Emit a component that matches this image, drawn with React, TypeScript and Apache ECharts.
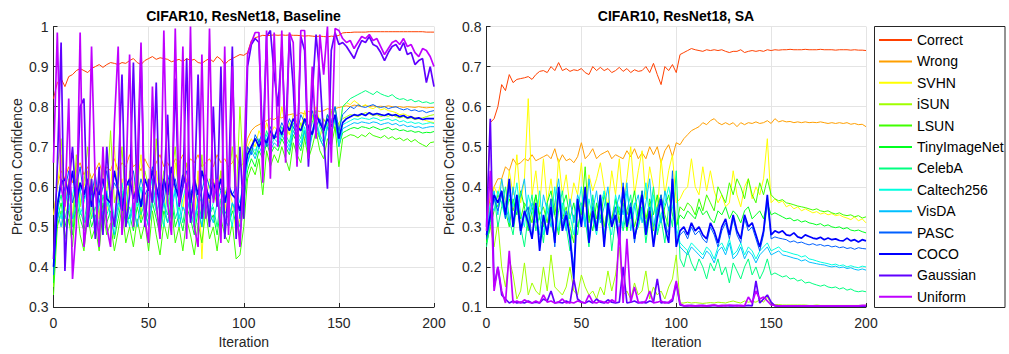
import React, { useEffect, useRef } from "react";
import * as echarts from "echarts";

// Iterations sampled every 2 steps (0..200)
const ITER: number[] = Array.from({ length: 101 }, (_, i) => i * 2);

const NAMES = ["Correct", "Wrong", "SVHN", "iSUN", "LSUN", "TinyImageNet", "CelebA", "Caltech256", "VisDA", "PASC", "COCO", "Gaussian", "Uniform"];
const COLORS = ["#ff4000", "#ff9f00", "#ffff00", "#a0ff00", "#40ff00", "#00ff20", "#00ff80", "#00ffdf", "#00bfff", "#0060ff", "#0000ff", "#6000ff", "#bf00ff"];
const WIDTHS = [1, 1, 1, 1, 1, 1, 1, 1, 1, 1, 1.7, 1.7, 1.7];

const TITLE_LEFT = "CIFAR10, ResNet18, Baseline";
const TITLE_RIGHT = "CIFAR10, ResNet18, SA";
const X_TICKS = { min: 0, max: 200, interval: 50 };
const Y_LEFT = { min: 0.3, max: 1, interval: 0.1 };
const Y_RIGHT = { min: 0.1, max: 0.8, interval: 0.1 };

// ---- Baseline panel (values in thousandths) ----
const L_CORRECT = [
  820, 860, 870, 850, 875, 880, 890, 895, 890, 885, 895, 900, 905, 898, 905, 910, 908, 905, 910, 908, 915, 920, 910, 905, 915, 920, 925, 918, 922, 920, 918, 912, 915, 918, 912, 920, 915, 918, 910, 908, 915, 920, 912, 925, 918, 905, 915, 920, 925, 930, 928,
  935, 965, 972, 975, 978, 977, 978, 979, 978, 979, 978, 979, 978, 978, 977, 976, 977, 976, 975, 976, 975, 974, 976, 975, 978,
  984, 985, 985, 986, 986, 986, 986, 987, 987, 987, 987, 987, 987, 987, 987, 987, 987, 987, 987, 987, 987, 987, 986, 986, 986];
const L_WRONG = [
  530, 600, 640, 620, 650, 610, 640, 660, 630, 650, 620, 640, 660, 630, 650, 640, 670, 640, 660, 650, 680, 650, 660, 640, 670, 650, 640, 660, 680, 650, 660, 640, 670, 660, 680, 650, 670, 660, 680, 650, 660, 670, 650, 680, 660, 670, 650, 660, 680, 650, 660,
  720, 740, 750, 755, 760, 765, 770, 768, 775, 772, 778, 780, 782, 778, 785, 782, 788, 785, 790, 788, 790, 795, 792, 795, 798,
  800, 802, 800, 804, 802, 800, 803, 800, 802, 800, 801, 800, 802, 800, 799, 800, 798, 800, 799, 798, 800, 798, 797, 798, 798];
const L_SVHN = [
  530, 600, 680, 540, 620, 500, 660, 560, 600, 640, 520, 620, 580, 660, 540, 600, 700, 560, 620, 520, 640, 580, 600, 680, 540, 620, 560, 640, 580, 500, 620, 560, 660, 600, 540, 620, 580, 520, 640, 420, 600, 560, 620, 580, 640, 540, 600, 560, 480, 520, 620,
  700, 720, 700, 740, 720, 760, 730, 750, 740, 800, 750, 730, 780, 760, 740, 790, 740, 770, 800, 760, 740, 780, 760, 800, 740,
  800, 810, 805, 815, 808, 800, 805, 798, 795, 800, 792, 795, 790, 788, 785, 780, 782, 778, 775, 772, 770, 768, 765, 762, 760];
const L_ISUN = [
  350, 650, 720, 560, 600, 520, 680, 550, 610, 700, 560, 630, 520, 650, 580, 740, 560, 600, 700, 540, 620, 580, 680, 520, 640, 600, 560, 720, 580, 640, 550, 620, 700, 560, 600, 660, 540, 620, 580, 680, 560, 620, 600, 550, 640, 580, 610, 700, 560, 800, 620,
  700, 690, 720, 700, 740, 710, 730, 720, 750, 730, 710, 760, 740, 720, 760, 720, 750, 780, 740, 720, 770, 750, 790, 740, 760,
  770, 775, 780, 778, 775, 780, 785, 782, 778, 780, 775, 778, 776, 780, 775, 772, 775, 770, 772, 768, 770, 772, 775, 778, 780];
const L_LSUN = [
  330, 500, 540, 470, 520, 450, 560, 480, 440, 530, 470, 500, 440, 540, 480, 510, 440, 490, 550, 460, 500, 450, 520, 470, 510, 440, 540, 480, 430, 510, 470, 550, 460, 500, 440, 520, 480, 430, 510, 460, 540, 470, 500, 440, 520, 480, 460, 510, 420, 430, 500,
  620, 650, 630, 670, 580, 690, 650, 680, 660, 700, 670, 640, 710, 680, 660, 720, 670, 700, 740, 690, 670, 720, 700, 750, 650,
  720, 725, 730, 728, 722, 730, 725, 735, 728, 725, 722, 728, 720, 725, 718, 722, 715, 720, 712, 718, 710, 705, 700, 710, 712];
const L_TINY = [
  360, 520, 560, 500, 540, 480, 570, 520, 490, 550, 500, 530, 480, 560, 510, 540, 470, 520, 570, 500, 530, 490, 550, 510, 540, 500, 560, 520, 480, 540, 510, 570, 500, 530, 490, 550, 520, 480, 540, 500, 560, 510, 530, 480, 550, 520, 500, 540, 510, 480, 560,
  640, 670, 650, 690, 670, 710, 680, 700, 690, 720, 700, 680, 730, 710, 690, 740, 700, 730, 760, 720, 700, 750, 730, 770, 700,
  735, 740, 745, 748, 745, 750, 748, 745, 750, 746, 742, 745, 748, 742, 745, 740, 742, 738, 740, 736, 738, 734, 736, 735, 738];
const L_CELEBA = [
  380, 540, 580, 520, 560, 500, 600, 540, 510, 570, 520, 550, 500, 580, 530, 560, 500, 540, 590, 520, 550, 510, 570, 530, 560, 520, 580, 540, 500, 560, 530, 590, 520, 550, 510, 570, 540, 500, 560, 520, 580, 530, 550, 500, 570, 540, 520, 560, 530, 500, 600,
  660, 700, 680, 720, 700, 740, 710, 730, 720, 750, 730, 710, 760, 740, 720, 770, 730, 760, 790, 750, 730, 780, 760, 800, 730,
  800, 810, 820, 825, 830, 835, 840, 835, 830, 838, 832, 828, 825, 830, 822, 818, 820, 815, 818, 812, 815, 810, 812, 808, 810];
const L_CALTECH = [
  400, 560, 520, 600, 540, 580, 620, 530, 560, 600, 540, 510, 580, 620, 550, 590, 520, 560, 610, 540, 500, 580, 550, 600, 530, 580, 620, 540, 560, 500, 590, 550, 600, 520, 570, 610, 540, 500, 580, 560, 600, 530, 560, 610, 520, 580, 550, 500, 590, 560, 620,
  680, 700, 690, 710, 700, 730, 700, 720, 710, 740, 720, 700, 750, 730, 710, 750, 700, 740, 770, 730, 710, 760, 740, 780, 710,
  755, 760, 765, 770, 768, 772, 770, 768, 772, 770, 765, 768, 770, 765, 768, 762, 765, 760, 762, 758, 760, 756, 758, 760, 758];
const L_VISDA = [
  420, 540, 500, 560, 590, 520, 550, 600, 510, 540, 580, 500, 560, 530, 590, 520, 480, 560, 540, 600, 520, 560, 500, 570, 540, 500, 560, 600, 530, 560, 510, 540, 590, 500, 550, 530, 580, 520, 560, 500, 570, 540, 510, 560, 590, 520, 500, 560, 540, 470, 600,
  660, 690, 670, 700, 680, 720, 690, 710, 700, 730, 710, 690, 740, 720, 700, 740, 680, 730, 760, 720, 700, 750, 730, 770, 700,
  745, 750, 755, 760, 758, 762, 760, 758, 762, 760, 755, 758, 760, 755, 758, 752, 755, 750, 752, 748, 750, 746, 748, 750, 750];
const L_PASC = [
  380, 560, 620, 590, 640, 560, 600, 650, 570, 610, 580, 630, 560, 600, 640, 570, 610, 590, 560, 620, 600, 640, 570, 620, 580, 600, 650, 580, 610, 560, 630, 590, 620, 570, 600, 640, 580, 610, 560, 590, 630, 600, 570, 620, 590, 560, 610, 580, 600, 520, 640,
  700, 680, 730, 710, 740, 700, 750, 720, 730, 760, 740, 770, 750, 730, 780, 760, 740, 790, 750, 770, 740, 780, 760, 800, 740,
  780, 790, 800, 795, 805, 800, 798, 802, 805, 800, 798, 800, 795, 798, 800, 795, 792, 795, 790, 792, 788, 790, 785, 788, 790];
const L_COCO = [
  400, 550, 610, 620, 580, 640, 560, 610, 580, 620, 550, 600, 580, 620, 570, 560, 640, 590, 540, 600, 620, 570, 600, 550, 620, 590, 640, 600, 560, 620, 580, 650, 600, 570, 630, 600, 560, 620, 580, 640, 600, 570, 610, 580, 620, 560, 600, 580, 570, 540, 620,
  680, 700, 720, 700, 720, 710, 740, 720, 750, 730, 760, 740, 770, 750, 740, 770, 750, 730, 780, 760, 740, 770, 750, 780, 720,
  760, 770, 775, 780, 778, 782, 778, 785, 780, 783, 780, 778, 782, 778, 780, 775, 778, 772, 775, 770, 772, 768, 770, 770, 770];
const L_GAUSS = [
  420, 650, 960, 390, 600, 700, 550, 800, 820, 500, 620, 470, 650, 480, 700, 560, 500, 620, 880, 500, 580, 910, 560, 940, 500, 620, 560, 860, 500, 600, 780, 520, 870, 550, 600, 920, 510, 580, 880, 520, 620, 500, 800, 550, 900, 470, 600, 950, 470, 700, 520,
  900, 955, 970, 960, 700, 975, 990, 880, 800, 950, 720, 980, 850, 660, 975, 940, 650, 830, 980, 880, 720, 595, 940, 985, 955,
  960, 950, 935, 920, 945, 965, 960, 975, 955, 950, 935, 915, 935, 950, 955, 940, 960, 930, 935, 905, 915, 920, 860, 900, 850];
const L_UNIF = [
  660, 985, 600, 550, 820, 370, 500, 985, 450, 540, 950, 600, 450, 700, 500, 450, 760, 950, 480, 600, 930, 500, 650, 960, 520, 460, 850, 560, 470, 990, 560, 480, 995, 560, 950, 470, 1000, 500, 450, 930, 520, 995, 560, 620, 460, 950, 480, 900, 560, 450, 640,
  930, 960, 985, 985, 610, 990, 620, 985, 700, 990, 660, 985, 960, 650, 990, 990, 670, 900, 720, 980, 880, 1000, 660, 995, 990,
  970, 960, 965, 945, 960, 975, 970, 980, 965, 970, 950, 930, 945, 960, 965, 955, 970, 950, 955, 935, 925, 945, 940, 925, 900];

// ---- SA panel (values in thousandths) ----
const R_CORRECT = [
  300, 560, 570, 600, 655, 640, 680, 660, 668, 670, 672, 675, 668, 680, 688, 690, 685, 700, 690, 710, 690, 695, 688, 692, 690, 695, 685, 680, 700, 690, 698, 690, 695, 685, 690, 698, 688, 695, 685, 692, 688, 690, 700, 685, 708, 680, 655, 700, 690, 705, 685,
  730, 735, 740, 745, 742, 740, 738, 742, 740, 742, 740, 742, 738, 735, 738, 738, 742, 735, 738, 740, 738, 740, 738, 742, 740,
  742, 741, 742, 742, 743, 742, 742, 742, 743, 742, 742, 742, 743, 742, 742, 742, 741, 742, 742, 742, 741, 742, 741, 741, 740];
const R_WRONG = [
  290, 380, 400, 420, 420, 450, 440, 470, 455, 460, 470, 465, 480, 465, 470, 475, 480, 470, 495, 460, 480, 465, 470, 460, 475, 510, 470, 480, 495, 470, 480, 485, 490, 470, 480, 475, 470, 490, 475, 495, 470, 485, 470, 500, 480, 500, 460, 490, 505, 475, 510,
  505, 520, 530, 540, 545, 550, 560, 555, 565, 570, 560, 555, 560, 555, 560, 550, 560, 555, 560, 558, 562, 558, 560, 565, 558,
  570, 562, 565, 562, 563, 560, 562, 560, 562, 560, 561, 560, 562, 560, 558, 560, 558, 560, 558, 560, 556, 558, 555, 556, 550];
const R_SVHN = [
  320, 340, 400, 380, 420, 360, 440, 380, 480, 360, 420, 620, 380, 440, 350, 470, 360, 420, 340, 470, 380, 430, 350, 410, 380, 460, 350, 430, 390, 420, 460, 400, 350, 440, 380, 470, 360, 420, 500, 380, 440, 490, 370, 450, 400, 330, 470, 380, 440, 480, 360,
  370, 390, 400, 470, 400, 380, 450, 390, 440, 390, 360, 380, 350, 360, 440, 380, 350, 400, 420, 370, 400, 380, 420, 520, 360,
  370, 360, 365, 350, 355, 345, 350, 340, 345, 340, 335, 338, 332, 335, 330, 333, 328, 330, 325, 322, 318, 325, 315, 320, 310];
const R_ISUN = [
  260, 300, 250, 310, 200, 150, 220, 180, 120, 140, 210, 130, 160, 140, 130, 200, 140, 230, 150, 140, 130, 150, 200, 140, 130, 180, 150, 130, 140, 120, 150, 130, 190, 140, 180, 250, 130, 140, 120, 160, 130, 140, 190, 120, 150, 130, 140, 120, 150, 170, 230,
  110, 110, 112, 110, 111, 110, 109, 110, 111, 110, 112, 111, 110, 113, 115, 112, 110, 115, 112, 114, 112, 118, 112, 125, 108,
  106, 106, 105, 105, 105, 105, 105, 105, 105, 104, 104, 105, 104, 104, 104, 104, 104, 104, 104, 104, 104, 104, 104, 104, 104];
const R_LSUN = [
  260, 300, 340, 380, 360, 330, 370, 340, 380, 320, 360, 340, 310, 380, 330, 350, 310, 370, 330, 390, 320, 350, 300, 260, 370, 330, 450, 310, 360, 320, 380, 300, 350, 320, 370, 310, 390, 330, 360, 300, 340, 390, 320, 360, 290, 350, 380, 330, 300, 420, 300,
  350, 340, 360, 350, 330, 370, 340, 380, 360, 340, 400, 380, 360, 410, 380, 420, 400, 370, 420, 380, 360, 410, 380, 420, 380,
  370, 365, 368, 360, 358, 355, 352, 350, 348, 345, 342, 345, 340, 338, 340, 335, 332, 335, 330, 328, 330, 325, 328, 322, 325];
const R_TINY = [
  260, 330, 370, 350, 390, 340, 300, 370, 330, 390, 350, 290, 340, 380, 320, 300, 360, 390, 330, 280, 350, 380, 320, 360, 300, 340, 390, 330, 290, 360, 320, 380, 340, 300, 370, 330, 360, 290, 340, 390, 320, 350, 300, 370, 330, 380, 310, 350, 380, 330, 300,
  330, 320, 340, 330, 320, 350, 330, 340, 320, 310, 340, 330, 350, 320, 340, 330, 310, 340, 350, 320, 330, 340, 320, 360, 330,
  335, 330, 325, 320, 322, 315, 318, 312, 315, 310, 308, 305, 308, 302, 305, 300, 298, 300, 295, 298, 292, 290, 292, 288, 285];
const R_CELEBA = [
  250, 310, 380, 300, 350, 400, 320, 280, 360, 300, 250, 330, 380, 290, 330, 260, 360, 310, 270, 340, 390, 300, 240, 330, 280, 360, 320, 250, 380, 300, 330, 280, 360, 240, 320, 350, 290, 340, 380, 280, 300, 350, 260, 330, 400, 280, 320, 260, 350, 300, 440,
  220, 200, 240, 210, 190, 220, 200, 170, 210, 190, 220, 180, 200, 160, 210, 190, 170, 200, 220, 180, 200, 170, 190, 220, 180,
  185, 180, 175, 178, 170, 172, 165, 168, 160, 162, 158, 155, 152, 155, 150, 148, 150, 145, 148, 142, 145, 140, 138, 140, 138];
const R_CALTECH = [
  290, 360, 340, 390, 360, 320, 380, 350, 410, 330, 300, 380, 340, 310, 390, 280, 350, 320, 400, 290, 360, 300, 330, 280, 340, 400, 300, 370, 320, 280, 350, 390, 310, 280, 380, 340, 300, 390, 320, 360, 300, 340, 410, 320, 380, 290, 330, 360, 400, 350, 300,
  260, 250, 240, 260, 250, 240, 230, 250, 240, 220, 250, 260, 240, 270, 230, 240, 260, 230, 250, 240, 220, 240, 250, 260, 240,
  245, 250, 240, 238, 235, 232, 230, 225, 228, 220, 218, 215, 212, 210, 208, 205, 207, 203, 205, 200, 203, 200, 198, 202, 200];
const R_VISDA = [
  280, 350, 390, 330, 420, 360, 310, 400, 340, 380, 420, 310, 360, 330, 280, 380, 340, 300, 360, 420, 330, 290, 370, 310, 380, 350, 300, 420, 340, 390, 310, 350, 400, 300, 340, 380, 330, 410, 290, 350, 380, 310, 360, 420, 300, 350, 310, 390, 340, 380, 290,
  250, 240, 230, 250, 240, 230, 220, 240, 230, 210, 240, 250, 230, 260, 220, 230, 250, 220, 240, 230, 210, 230, 240, 250, 230,
  235, 240, 230, 228, 225, 222, 220, 215, 218, 212, 210, 208, 206, 205, 202, 200, 202, 198, 200, 196, 198, 194, 192, 195, 192];
const R_PASC = [
  270, 320, 370, 340, 380, 320, 410, 300, 360, 280, 330, 350, 270, 340, 260, 320, 290, 370, 250, 390, 300, 340, 280, 200, 360, 310, 390, 270, 350, 300, 370, 260, 340, 310, 350, 280, 410, 310, 360, 260, 330, 390, 290, 350, 260, 340, 380, 310, 280, 440, 260,
  280, 290, 270, 300, 280, 290, 270, 260, 300, 280, 250, 290, 310, 270, 320, 280, 260, 320, 290, 300, 270, 240, 280, 360, 270,
  275, 272, 270, 268, 262, 265, 260, 262, 258, 255, 258, 254, 256, 252, 254, 250, 252, 248, 250, 246, 248, 244, 248, 246, 245];
const R_COCO = [
  280, 330, 380, 360, 390, 330, 420, 300, 380, 290, 340, 310, 270, 360, 240, 330, 280, 350, 260, 400, 290, 330, 270, 170, 370, 300, 400, 260, 340, 290, 380, 250, 360, 300, 330, 260, 400, 300, 350, 270, 320, 380, 280, 340, 250, 320, 370, 300, 260, 420, 250,
  290, 300, 280, 310, 290, 300, 280, 270, 310, 290, 260, 300, 320, 280, 330, 290, 270, 330, 300, 310, 280, 250, 290, 380, 280,
  290, 285, 290, 280, 278, 285, 275, 272, 280, 276, 272, 270, 274, 268, 272, 268, 270, 266, 265, 272, 265, 268, 262, 268, 265];
const R_GAUSS = [
  300, 570, 150, 200, 130, 120, 110, 115, 110, 112, 110, 115, 110, 112, 110, 120, 115, 140, 110, 112, 110, 115, 110, 170, 120, 112, 110, 115, 110, 120, 112, 110, 118, 112, 110, 112, 200, 110, 112, 115, 110, 112, 110, 115, 112, 170, 110, 112, 110, 115, 160,
  105, 103, 103, 104, 103, 103, 104, 103, 103, 104, 103, 103, 104, 103, 103, 104, 103, 103, 104, 103, 165, 110, 120, 130, 112,
  103, 102, 102, 102, 102, 102, 102, 102, 102, 102, 102, 102, 102, 102, 102, 102, 102, 102, 102, 102, 102, 102, 102, 102, 102];
const R_UNIF = [
  290, 440, 140, 200, 140, 110, 240, 110, 115, 110, 118, 112, 110, 115, 110, 130, 112, 115, 110, 112, 120, 110, 112, 110, 115, 112, 110, 130, 112, 110, 115, 112, 110, 118, 112, 300, 110, 270, 112, 150, 112, 110, 115, 140, 110, 112, 115, 110, 112, 120, 165,
  108, 103, 104, 103, 103, 104, 103, 103, 104, 105, 103, 104, 103, 105, 104, 103, 104, 103, 125, 110, 140, 120, 125, 115, 105,
  104, 103, 103, 103, 103, 103, 103, 103, 103, 103, 103, 103, 103, 103, 103, 103, 103, 103, 103, 103, 103, 103, 103, 104, 104];

const LEFT_DATA = [L_CORRECT, L_WRONG, L_SVHN, L_ISUN, L_LSUN, L_TINY, L_CELEBA, L_CALTECH, L_VISDA, L_PASC, L_COCO, L_GAUSS, L_UNIF];
const RIGHT_DATA = [R_CORRECT, R_WRONG, R_SVHN, R_ISUN, R_LSUN, R_TINY, R_CELEBA, R_CALTECH, R_VISDA, R_PASC, R_COCO, R_GAUSS, R_UNIF];

const FONT = '"Liberation Sans", Arial, Helvetica, sans-serif';
const AX = "#262626";
const GRID = "#e4e4e4";

function xAxisCfg(gridIndex: number) {
  return {
    type: "value",
    gridIndex,
    ...X_TICKS,
    name: "Iteration",
    nameLocation: "middle",
    nameGap: 28,
    nameTextStyle: { fontSize: 14, color: AX, fontFamily: FONT },
    axisLine: { show: true, onZero: false, lineStyle: { color: AX, width: 1 } },
    axisTick: { show: true, inside: true, length: 4, lineStyle: { color: AX } },
    axisLabel: { margin: 9, fontSize: 14, color: AX, fontFamily: FONT },
    splitLine: { show: true, lineStyle: { color: GRID, width: 1 } },
  };
}

function yAxisCfg(gridIndex: number, range: { min: number; max: number; interval: number }, gap: number) {
  return {
    type: "value",
    gridIndex,
    ...range,
    name: "Prediction Confidence",
    nameLocation: "middle",
    nameGap: gap,
    nameTextStyle: { fontSize: 14, color: AX, fontFamily: FONT },
    axisLine: { show: true, onZero: false, lineStyle: { color: AX, width: 1 } },
    axisTick: { show: true, inside: true, length: 4, lineStyle: { color: AX } },
    axisLabel: { margin: 5, fontSize: 14, color: AX, fontFamily: FONT },
    splitLine: { show: true, lineStyle: { color: GRID, width: 1 } },
  };
}

function buildSeries(data: number[][], axisIndex: number) {
  return data.map((vals, k) => ({
    type: "line",
    name: NAMES[k],
    xAxisIndex: axisIndex,
    yAxisIndex: axisIndex,
    symbol: "none",
    showSymbol: false,
    smooth: false,
    color: COLORS[k],
    lineStyle: { color: COLORS[k], width: WIDTHS[k] },
    emphasis: { disabled: true },
    data: vals.map((v, i) => [ITER[i], v / 1000]),
  }));
}

export default function App() {
  const ref = useRef<HTMLDivElement>(null);
  useEffect(() => {
    if (!ref.current) return;
    const chart = echarts.init(ref.current, undefined, { renderer: "svg" });
    const option: any = {
      animation: false,
      backgroundColor: "#ffffff",
      textStyle: { fontFamily: FONT },
      title: [
        { text: TITLE_LEFT, left: 243.5, top: 9, padding: 0, textAlign: "center", textStyle: { fontSize: 14, fontWeight: "bold", color: "#000", fontFamily: FONT } },
        { text: TITLE_RIGHT, left: 676, top: 9, padding: 0, textAlign: "center", textStyle: { fontSize: 14, fontWeight: "bold", color: "#000", fontFamily: FONT } },
      ],
      grid: [
        { left: 53.5, top: 26.5, width: 380.5, height: 280.5, containLabel: false },
        { left: 486.5, top: 26.5, width: 379.5, height: 280.5, containLabel: false },
      ],
      xAxis: [xAxisCfg(0), xAxisCfg(1)],
      yAxis: [yAxisCfg(0, Y_LEFT, 29.5), yAxisCfg(1, Y_RIGHT, 31)],
      legend: {
        data: NAMES,
        orient: "vertical",
        left: 878,
        top: 33,
        padding: 0,
        itemWidth: 33,
        itemHeight: 14,
        itemGap: 7.4,
        selectedMode: false,
        itemStyle: { opacity: 0 },
        textStyle: { fontSize: 14, lineHeight: 14, color: "#000", fontFamily: FONT },
      },
      graphic: [
        {
          type: "rect",
          shape: { x: 874.5, y: 26.5, width: 130.5, height: 281 },
          style: { fill: "none", stroke: AX, lineWidth: 1 },
          silent: true,
        },
      ],
      series: [...buildSeries(LEFT_DATA, 0), ...buildSeries(RIGHT_DATA, 1)],
    };
    chart.setOption(option);
    return () => chart.dispose();
  }, []);
  return <div ref={ref} style={{ position: "absolute", left: 0, top: 0, width: 1009, height: 354 }} />;
}
